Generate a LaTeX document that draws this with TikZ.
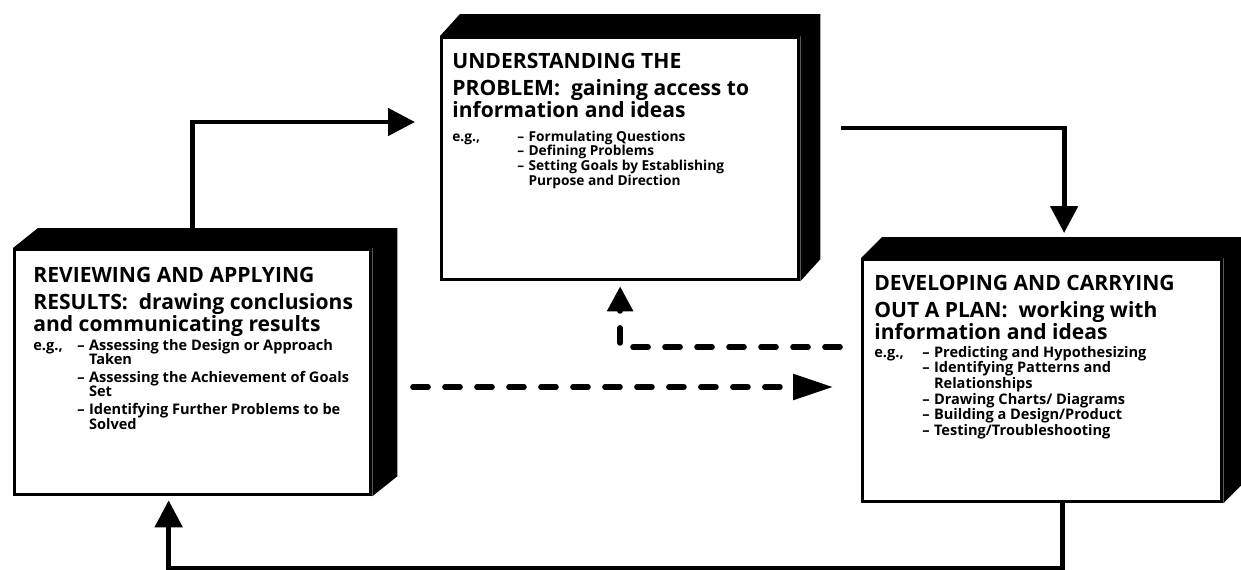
\documentclass[tikz,border=0pt]{standalone}
\usepackage{fontspec}
\setmainfont{Open Sans}
\usepackage{xcolor}
\usepackage{tikz}
\usetikzlibrary{positioning, arrows.meta, calc, backgrounds}
\definecolor{ink}{RGB}{0,0,0}

\begin{document}
\begin{tikzpicture}[
    x=0.02cm, y=-0.02cm, font=\bfseries,
    face/.style={rectangle,draw=ink,line width=1.9pt,fill=white,anchor=north west,
                 inner sep=0pt},
    hd/.style={anchor=base west,inner sep=0pt,font=\fontsize{12}{11.9}\selectfont\bfseries},
    eg/.style={anchor=base west,inner sep=0pt,font=\fontsize{7.8}{8.2}\selectfont\bfseries},
    egbig/.style={eg,font=\fontsize{8.3}{8.8}\selectfont\bfseries},
    conn/.style={draw=ink,line width=2.8pt,-{Triangle[length=0.54cm,width=0.54cm]}},
    dconn/.style={draw=ink,line width=3.2pt,dash pattern=on 0.3cm off 0.34cm,line cap=round}]

  \useasboundingbox (0,0) rectangle (1241,569);

  % the three boxes, front faces
  \node[face,minimum width=7.14cm,minimum height=4.84cm] (und) at (440,36) {};
  \node[face,minimum width=7.12cm,minimum height=4.90cm] (rev) at (13,248) {};
  \node[face,minimum width=7.18cm,minimum height=4.84cm] (dev) at (861,258) {};
  % black top and side
  \begin{scope}[on background layer]
  \foreach \n/\dx/\dy in {und/20/22, rev/25/20, dev/21/21}
    \fill[ink] (\n.north west) -- ++(\dx,-\dy) -- ($(\n.north east)+(\dx,-\dy)$)
      -- ($(\n.south east)+(\dx,-\dy)$) -- (\n.south east) -- (\n.north east) -- cycle;
  \end{scope}

  \node[hd] (undhd) at (452,68) {\begin{tabular}[t]{@{}l@{}}UNDERSTANDING THE\\[2.8pt]
        PROBLEM:\ \ gaining access to\\ information and ideas\end{tabular}};
  \node[eg] (undeg) at (452,141) {e.g.,};
  \node[eg] (undls) at (517,141) {\begin{tabular}[t]{@{}l@{\hspace{2.5pt}}l@{}}
        -- & Formulating Questions\\ -- & Defining Problems\\
        -- & Setting Goals by Establishing\\ & Purpose and Direction\end{tabular}};

  \node[hd] (revhd) at (33,282) {\begin{tabular}[t]{@{}l@{}}REVIEWING AND APPLYING\\[2.8pt]
        RESULTS:\ \ drawing conclusions\\ and communicating results\end{tabular}};
  \node[egbig] (reveg) at (33,350) {e.g.,};
  \node[egbig] (revls) at (77,350) {\begin{tabular}[t]{@{}l@{\hspace{2.5pt}}l@{}}
        -- & Assessing the Design or Approach\\[-.8pt] & Taken\\[1.2pt]
        -- & Assessing the Achievement of Goals\\[-.8pt] & Set\\[1.6pt]
        -- & Identifying Further Problems to be\\[-.8pt] & Solved\end{tabular}};

  \node[hd] (devhd) at (874,290) {\begin{tabular}[t]{@{}l@{}}DEVELOPING AND CARRYING\\[2.8pt]
        OUT A PLAN:\ \ working with\\ information and ideas\end{tabular}};
  \node[egbig] (deveg) at (874,357) {e.g.,};
  \node[egbig] (devls) at (922,357) {\begin{tabular}[t]{@{}l@{\hspace{2.5pt}}l@{}}
        -- & Predicting and Hypothesizing\\ -- & Identifying Patterns and\\
        & Relationships\\ -- & Drawing Charts/ Diagrams\\
        -- & Building a Design/Product\\ -- & Testing/Troubleshooting\end{tabular}};

  % solid connectors
  \draw[conn] ([yshift=0.4cm]rev.north) |- ($(und.north west)+(-25,86)$);
  \draw[conn] ($(und.north east)+(41,92)$) -| ($(dev.north)+(22,-25)$);
  \draw[conn] ($(dev.south)+(20,0)$) -- ++(0,65) -| ($(rev.south)+(-24,4)$);

  % dashed connectors
  \coordinate (back) at (840,347);
  \coordinate (ahead) at (413,387);
  \draw[dconn,-{Triangle[length=0.5cm,width=0.5cm]}] (back) -| ([yshift=-0.1cm]und.south);
  \draw[dconn,shorten >=0.56cm,-{Triangle[length=0.8cm,width=0.5cm]}] (ahead) -- (ahead -| dev.west);
\end{tikzpicture}
\end{document}
